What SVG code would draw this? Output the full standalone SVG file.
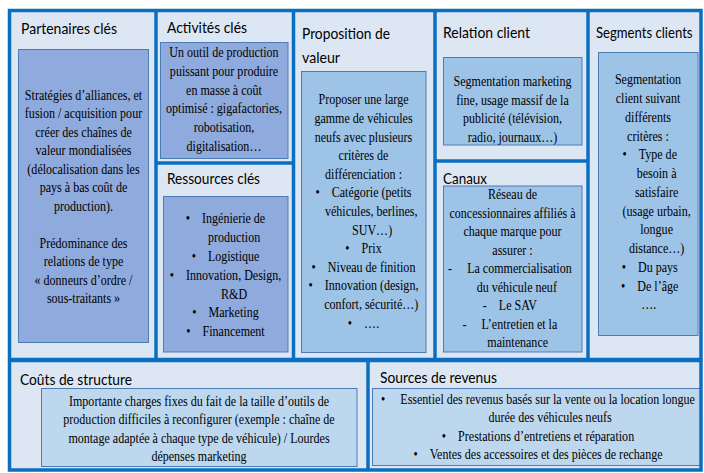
<svg xmlns="http://www.w3.org/2000/svg" width="704" height="473" viewBox="0 0 704 473">
<style>
.h{font-family:Lato,"Open Sans","Liberation Sans",sans-serif;font-size:16px;fill:#000}
.b{font-family:"Liberation Serif","Times New Roman",serif;font-size:14px;fill:#000;text-anchor:middle}
.dk{fill:#8faadc;stroke:#4f7bb5;stroke-width:1}
.md{fill:#9dc3e6;stroke:#4f7bb5;stroke-width:1}
.lt{fill:#bdd7ee;stroke:#4f7bb5;stroke-width:1}
.grid{stroke:#0a6fc0;stroke-width:3.5;fill:none}
</style>
<rect x="8" y="9" width="694" height="462" fill="#dde7f3"/>

<g id="partenaires">
<text class="h" x="21" y="34" textLength="96" lengthAdjust="spacingAndGlyphs">Partenaires clés</text>
<rect class="dk" x="18.5" y="49.5" width="130" height="293"/>
<g transform="translate(83.5 0) scale(0.86 1)">
<text class="b" x="0" y="100">Stratégies d’alliances, et</text>
<text class="b" x="0" y="118.5">fusion / acquisition pour</text>
<text class="b" x="0" y="137">créer des chaînes de</text>
<text class="b" x="0" y="155.5">valeur mondialisées</text>
<text class="b" x="0" y="174">(délocalisation dans les</text>
<text class="b" x="0" y="192.5">pays à bas coût de</text>
<text class="b" x="0" y="211">production).</text>
<text class="b" x="0" y="248">Prédominance des</text>
<text class="b" x="0" y="266.5">relations de type</text>
<text class="b" x="0" y="285">« donneurs d’ordre /</text>
<text class="b" x="0" y="303.5">sous-traitants »</text>
</g>
</g>

<g id="activites">
<text class="h" x="167" y="33" textLength="80" lengthAdjust="spacingAndGlyphs">Activités clés</text>
<rect class="dk" x="160.5" y="42.5" width="127.5" height="116"/>
<g transform="translate(224 0) scale(0.86 1)">
<text class="b" x="0" y="57">Un outil de production</text>
<text class="b" x="0" y="75.8">puissant pour produire</text>
<text class="b" x="0" y="94.6">en masse à coût</text>
<text class="b" x="0" y="113.4">optimisé : gigafactories,</text>
<text class="b" x="0" y="132.2">robotisation,</text>
<text class="b" x="0" y="151">digitalisation…</text>
</g>
</g>

<g id="ressources">
<text class="h" x="167" y="184" textLength="93" lengthAdjust="spacingAndGlyphs">Ressources clés</text>
<rect class="dk" x="163.5" y="196.5" width="124.5" height="155.5"/>
<g transform="translate(225.5 0) scale(0.86 1)">
<text class="b" x="0" y="223">•&#160;&#160;&#160;&#160;Ingénierie de</text>
<text class="b" x="10" y="241.9">production</text>
<text class="b" x="0" y="260.8">•&#160;&#160;&#160;&#160;Logistique</text>
<text class="b" x="0" y="279.7">•&#160;&#160;&#160;&#160;Innovation, Design,</text>
<text class="b" x="10" y="298.6">R&amp;D</text>
<text class="b" x="0" y="317.5">•&#160;&#160;&#160;&#160;Marketing</text>
<text class="b" x="0" y="336.4">•&#160;&#160;&#160;&#160;Financement</text>
</g>
</g>

<g id="proposition">
<text class="h" x="302" y="39" textLength="88" lengthAdjust="spacingAndGlyphs">Proposition de</text>
<text class="h" x="302" y="63" textLength="38" lengthAdjust="spacingAndGlyphs">valeur</text>
<rect class="md" x="301.5" y="71.5" width="124.5" height="281"/>
<g transform="translate(363.5 0) scale(0.86 1)">
<text class="b" x="0" y="104.5">Proposer une large</text>
<text class="b" x="0" y="123.1">gamme de véhicules</text>
<text class="b" x="0" y="141.7">neufs avec plusieurs</text>
<text class="b" x="0" y="160.3">critères de</text>
<text class="b" x="0" y="178.9">différenciation :</text>
<text class="b" x="0" y="197.5">•&#160;&#160;&#160;&#160;Catégorie (petits</text>
<text class="b" x="9" y="216.1">véhicules, berlines,</text>
<text class="b" x="10" y="234.7">SUV…)</text>
<text class="b" x="0" y="253.3">•&#160;&#160;&#160;&#160;Prix</text>
<text class="b" x="0" y="271.9">•&#160;&#160;&#160;&#160;Niveau de finition</text>
<text class="b" x="0" y="290.5">•&#160;&#160;&#160;&#160;Innovation (design,</text>
<text class="b" x="9" y="309.1">confort, sécurité…)</text>
<text class="b" x="0" y="327.7">•&#160;&#160;&#160;&#160;….</text>
</g>
</g>

<g id="relation">
<text class="h" x="443" y="38" textLength="87" lengthAdjust="spacingAndGlyphs">Relation client</text>
<rect class="md" x="443.5" y="57.5" width="138.5" height="87.5"/>
<g transform="translate(512.5 0) scale(0.86 1)">
<text class="b" x="0" y="86.5">Segmentation marketing</text>
<text class="b" x="0" y="105">fine, usage massif de la</text>
<text class="b" x="0" y="123.5">publicité (télévision,</text>
<text class="b" x="0" y="142">radio, journaux…)</text>
</g>
</g>

<g id="canaux">
<rect class="md" x="443.5" y="186" width="138.5" height="166"/>
<text class="h" x="443" y="184" textLength="44" lengthAdjust="spacingAndGlyphs">Canaux</text>
<g transform="translate(512.5 0) scale(0.86 1)">
<text class="b" x="0" y="199.5">Réseau de</text>
<text class="b" x="0" y="218">concessionnaires affiliés à</text>
<text class="b" x="0" y="236.5">chaque marque pour</text>
<text class="b" x="0" y="255">assurer :</text>
<text class="b" x="-3" y="273.5">-&#160;&#160;&#160;&#160;&#160;La commercialisation</text>
<text class="b" x="5" y="292">du véhicule neuf</text>
<text class="b" x="-3" y="310.5">-&#160;&#160;&#160;&#160;Le SAV</text>
<text class="b" x="-3" y="329">-&#160;&#160;&#160;&#160;&#160;L’entretien et la</text>
<text class="b" x="6" y="347.5">maintenance</text>
</g>
</g>

<g id="segments">
<text class="h" transform="translate(596 38) scale(0.82 1)" x="0" y="0">Segments clients</text>
<rect class="md" x="598.5" y="52.5" width="99.5" height="283"/>
<g transform="translate(648 0) scale(0.86 1)">
<text class="b" x="0" y="84.5">Segmentation</text>
<text class="b" x="0" y="103.25">client suivant</text>
<text class="b" x="0" y="122">différents</text>
<text class="b" x="0" y="140.75">critères :</text>
<text class="b" x="2" y="159.5">•&#160;&#160;&#160;&#160;Type de</text>
<text class="b" x="10" y="178.25">besoin à</text>
<text class="b" x="10" y="197">satisfaire</text>
<text class="b" x="10" y="215.75">(usage urbain,</text>
<text class="b" x="10" y="234.5">longue</text>
<text class="b" x="10" y="253.25">distance…)</text>
<text class="b" x="2" y="272">•&#160;&#160;&#160;&#160;Du pays</text>
<text class="b" x="2" y="290.75">•&#160;&#160;&#160;&#160;De l’âge</text>
<text class="b" x="1" y="309.5">….</text>
</g>
</g>

<g id="couts">
<text class="h" x="20" y="385" textLength="112" lengthAdjust="spacingAndGlyphs">Coûts de structure</text>
<rect class="lt" x="41.5" y="388.5" width="315.5" height="78"/>
<g transform="translate(199 0) scale(0.86 1)">
<text class="b" x="0" y="406">Importante charges fixes du fait de la taille d’outils de</text>
<text class="b" x="0" y="424.5">production difficiles à reconfigurer (exemple : chaîne de</text>
<text class="b" x="0" y="443">montage adaptée à chaque type de véhicule) / Lourdes</text>
<text class="b" x="0" y="461.5">dépenses marketing</text>
</g>
</g>

<g id="revenus">
<text class="h" x="380" y="383" textLength="117" lengthAdjust="spacingAndGlyphs">Sources de revenus</text>
<rect class="lt" x="372.5" y="388.5" width="328" height="77"/>
<g transform="translate(538 0) scale(0.86 1)">
<text class="b" x="0" y="404">•&#160;&#160;&#160;&#160;&#160;Essentiel des revenus basés sur la vente ou la location longue</text>
<text class="b" x="14" y="422.5">durée des véhicules neufs</text>
<text class="b" x="0" y="441">•&#160;&#160;&#160;&#160;Prestations d’entretiens et réparation</text>
<text class="b" x="0" y="459.5">•&#160;&#160;&#160;&#160;Ventes des accessoires et des pièces de rechange</text>
</g>
</g>

<g id="frame" class="grid">
<rect x="9.5" y="10.5" width="691.5" height="459.5"/>
<line x1="156" y1="10" x2="156" y2="360"/>
<line x1="293.5" y1="10" x2="293.5" y2="360"/>
<line x1="435" y1="10" x2="435" y2="360"/>
<line x1="588" y1="10" x2="588" y2="360"/>
<line x1="156" y1="163" x2="293.5" y2="163"/>
<line x1="435" y1="161" x2="588" y2="161"/>
<line x1="8" y1="360" x2="702" y2="360" stroke-width="4.5"/>
<line x1="368" y1="360" x2="368" y2="470"/>
</g>
</svg>
